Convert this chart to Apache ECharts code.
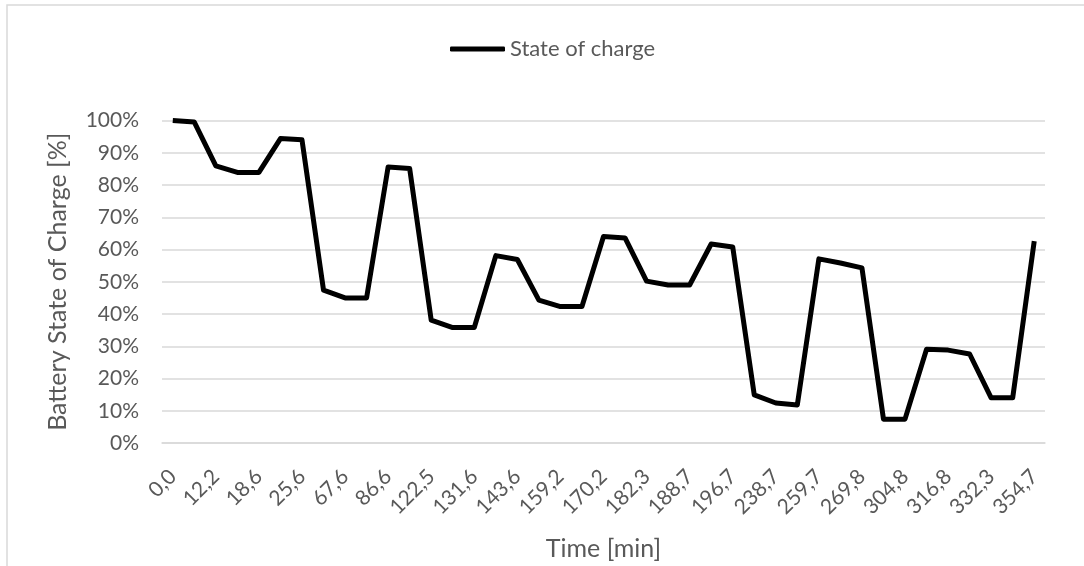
<!DOCTYPE html>
<html>
<head>
<meta charset="utf-8">
<script src="https://cdn.jsdelivr.net/npm/echarts@6/dist/echarts.min.js"></script>
<style>
html,body{margin:0;padding:0;background:#fff;}
#chart{width:1084px;height:566px;}
</style>
</head>
<body>
<div id="chart"></div>
<script>
// Time categories [min]; every second label is shown (odd ones are hidden in the reference, estimated)
const categories = ["0,0","6,1","12,2","15,4","18,6","22,1","25,6","46,6","67,6","77,1","86,6","104,6","122,5","127,1","131,6","137,6","143,6","151,4","159,2","164,7","170,2","176,3","182,3","185,5","188,7","192,7","196,7","217,7","238,7","249,2","259,7","264,8","269,8","287,3","304,8","310,8","316,8","324,6","332,3","343,5","354,7"];
// Battery state of charge [%]
const stateOfCharge = [100,99.5,85.9,83.9,83.9,94.4,94.0,47.4,45.0,45.0,85.6,85.1,38.1,35.8,35.8,58.1,56.9,44.3,42.3,42.3,64.0,63.6,50.2,49.0,49.0,61.7,60.8,14.9,12.4,11.8,57.1,55.8,54.3,7.4,7.4,29.1,28.8,27.6,14.0,14.0,62.6];
const seriesName = "State of charge";
const xAxisTitle = "Time [min]";
const yAxisTitle = "Battery State of Charge [%]";

const FONT = "Lato";
const chart = echarts.init(document.getElementById('chart'), null, {renderer:'canvas'});
chart.setOption({
  animation:false,
  backgroundColor:'#fff',
  graphic:[{type:'rect',shape:{x:7,y:5,width:1200,height:700},style:{fill:'none',stroke:'#d9d9d9',lineWidth:1.5},silent:true}],
  legend:{
    left:445, top:33,
    itemWidth:55, itemHeight:5, itemGap:10,
    data:[{name:seriesName, icon:'roundRect'}],
    textStyle:{fontFamily:FONT, fontSize:22, color:'#595959'}
  },
  grid:{left:162, right:39, top:120.5, bottom:123, containLabel:false, outerBoundsMode:'none'},
  xAxis:{
    type:'category', data:categories, boundaryGap:true,
    name:xAxisTitle, nameLocation:'middle', nameGap:93,
    nameTextStyle:{fontFamily:FONT, fontSize:25, color:'#595959'},
    axisLine:{show:true, lineStyle:{color:'#d9d9d9', width:1.5}},
    axisTick:{show:false},
    axisLabel:{interval:1, rotate:45, margin:30, fontFamily:FONT, fontSize:21, color:'#595959'},
    splitLine:{show:false}
  },
  yAxis:{
    type:'value', min:0, max:100, interval:10,
    name:yAxisTitle, nameLocation:'middle', nameGap:92, nameRotate:90,
    nameTextStyle:{fontFamily:FONT, fontSize:25, color:'#595959'},
    axisLine:{show:false}, axisTick:{show:false},
    axisLabel:{formatter:'{value}%', margin:23, fontFamily:FONT, fontSize:21, color:'#595959'},
    splitLine:{lineStyle:{color:'#d9d9d9', width:1.5}}
  },
  series:[{
    name:seriesName, type:'line', data:stateOfCharge,
    symbol:'none', smooth:false,
    lineStyle:{color:'#000', width:5, join:'round'},
    itemStyle:{color:'#000'}
  }]
});
</script>
</body>
</html>
